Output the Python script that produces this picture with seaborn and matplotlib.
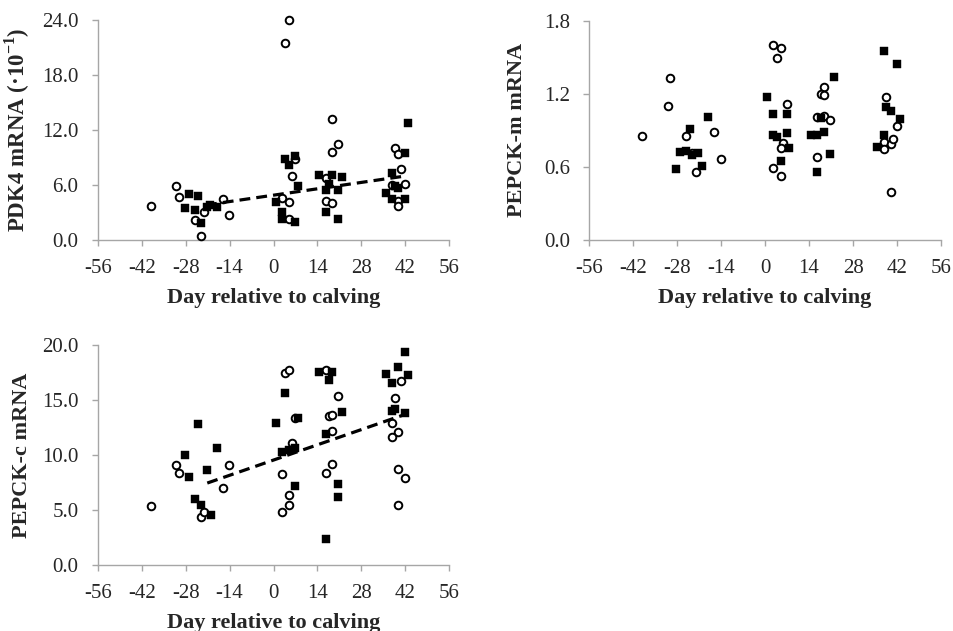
import numpy as np
import pandas as pd
import matplotlib
matplotlib.use("Agg")
import matplotlib.pyplot as plt
import seaborn as sns

sns.set_style("white")
plt.rcParams['font.family'] = ['Liberation Serif', 'DejaVu Serif']
plt.rcParams['mathtext.fontset'] = 'custom'
plt.rcParams['mathtext.rm'] = 'Liberation Serif'
plt.rcParams['mathtext.bf'] = 'Liberation Serif:bold'

# ---------------- data ----------------
# PDK4 (x10^-1)
pdk4_open_day = [-39.1, -31.0, -30.1, -25.1, -22.0, -23.2, -16.1, -14.2,
                 3.8, 5.0, 2.8, 5.0, 5.8, 5.0, 6.8,
                 18.6, 20.6, 18.6, 16.6, 16.6, 18.6,
                 38.7, 39.8, 40.7, 41.8, 37.7, 39.8, 39.8]
pdk4_open_val = [3.75, 5.93, 4.73, 2.22, 3.05, 0.47, 4.44, 2.69,
                 21.45, 23.96, 4.55, 4.15, 6.98, 2.29, 8.87,
                 13.16, 10.44, 9.56, 6.73, 4.25, 4.07,
                 10.07, 9.35, 7.75, 6.11, 6.04, 4.25, 3.75]
pdk4_fill_day = [-27.0, -24.1, -28.2, -25.1, -23.2, -21.1, -20.2, -18.1,
                 3.8, 5.0, 7.0, 7.7, 0.7, 2.8, 2.8, 7.0,
                 14.6, 18.6, 21.7, 17.7, 16.6, 20.6, 16.6, 20.6,
                 37.7, 41.8, 42.8, 35.8, 38.7, 39.8, 37.7, 41.8]
pdk4_fill_val = [5.05, 4.76, 3.45, 3.31, 1.85, 3.64, 3.82, 3.56,
                 8.87, 8.15, 9.13, 5.93, 4.11, 3.05, 2.29, 1.93,
                 7.05, 7.05, 6.87, 6.07, 5.45, 5.49, 3.02, 2.33,
                 7.35, 9.45, 12.76, 5.16, 5.89, 5.64, 4.44, 4.44]
pdk4_trend_day = [-21.5, 42.4]
pdk4_trend_val = [3.82, 7.0]

# PEPCK-m
pm_open_day = [-39.2, -30.3, -31.0, -25.2, -23.2, -22.0, -16.1, -14.1,
               2.6, 5.0, 3.8, 7.0, 5.8, 5.0, 2.6, 5.0,
               18.7, 17.9, 18.7, 16.6, 18.7, 20.7, 16.6,
               38.6, 37.9, 37.9, 40.0, 40.8, 41.9, 40.0]
pm_open_val = [0.851, 1.33, 1.097, 0.856, 0.717, 0.558, 0.886, 0.667,
               1.60, 1.578, 1.49, 1.113, 0.799, 0.755, 0.588, 0.522,
               1.258, 1.198, 1.19, 1.012, 1.02, 0.982, 0.684,
               1.171, 0.807, 0.749, 0.785, 0.829, 0.935, 0.391]
pm_fill_day = [-28.3, -27.2, -25.2, -24.0, -23.2, -21.3, -20.1, -18.1,
               0.7, 2.6, 7.0, 2.6, 3.8, 7.0, 7.7, 5.0,
               14.5, 16.6, 18.7, 17.9, 21.8, 20.7, 16.6,
               37.9, 41.9, 38.6, 40.0, 42.9, 35.7, 37.9]
pm_fill_val = [0.583, 0.719, 0.733, 0.911, 0.70, 0.714, 0.604, 1.012,
               1.171, 1.034, 1.034, 0.862, 0.848, 0.881, 0.758, 0.648,
               0.859, 0.859, 0.889, 0.998, 1.338, 0.706, 0.555,
               1.551, 1.441, 1.094, 1.061, 0.996, 0.766, 0.864]

# PEPCK-c
pc_open_day = [-39.1, -31.0, -30.1, -23.2, -22.1, -16.1, -14.2,
               2.8, 2.8, 5.0, 5.0, 5.8, 3.8, 5.0, 6.8,
               16.6, 20.7, 17.7, 18.7, 18.7, 18.7, 16.6,
               40.7, 38.7, 37.8, 39.8, 37.8, 39.8, 41.8, 39.8]
pc_open_val = [5.36, 9.12, 8.39, 4.33, 4.79, 6.97, 9.12,
               8.27, 4.82, 5.48, 6.39, 11.06, 17.48, 17.73, 13.39,
               17.73, 15.39, 13.55, 13.64, 12.18, 9.15, 8.39,
               16.70, 15.21, 12.91, 12.12, 11.61, 8.76, 7.94, 5.45]
pc_fill_day = [-24.1, -28.2, -27.0, -25.1, -23.2, -20.0, -21.1, -18.1,
               0.7, 3.8, 2.8, 5.0, 7.0, 7.7, 7.0,
               14.6, 18.7, 17.7, 21.7, 16.6, 20.7, 20.7, 16.6,
               41.8, 39.8, 35.8, 42.8, 37.8, 37.8, 38.7, 41.8]
pc_fill_val = [12.85, 10.03, 7.97, 6.0, 5.45, 4.58, 8.61, 10.67,
               12.94, 15.67, 10.24, 10.45, 10.67, 13.33, 7.21,
               17.52, 17.52, 16.79, 13.91, 11.88, 7.39, 6.18, 2.33,
               19.33, 18.0, 17.33, 17.27, 16.55, 13.97, 14.21, 13.82]
pc_trend_day = [-21.1, 41.4]
pc_trend_val = [7.45, 13.64]

x_ticks = [-56, -42, -28, -14, 0, 14, 28, 42, 56]
xlabel = "Day relative to calving"

# ---------------- figure ----------------
W, H = 954, 631
fig = plt.figure(figsize=(W / 100, H / 100), dpi=100)

def px_axes(left, top, right, bottom):
    return fig.add_axes([left / W, 1 - bottom / H, (right - left) / W, (bottom - top) / H])

def draw(ax, od, ov, fd, fv, ylim, yticks, ylabel, trend=None, ylabelsize=16):
    sns.scatterplot(x=od, y=ov, ax=ax, marker='o', s=30, facecolor='white',
                    edgecolor='black', linewidth=1.4, zorder=3)
    sns.scatterplot(x=fd, y=fv, ax=ax, marker='s', s=26, color='black',
                    edgecolor='black', linewidth=0.3, zorder=4)
    if trend is not None:
        sns.lineplot(x=trend[0], y=trend[1], ax=ax, color='black', linewidth=2.3,
                     linestyle=(0, (3.4, 1.9)), zorder=5)
    ax.set_xlim(-56, 56)
    ax.set_ylim(*ylim)
    ax.set_xticks(x_ticks)
    ax.set_xticklabels([str(t) for t in x_ticks])
    ax.set_yticks(yticks)
    ax.set_yticklabels([f"{t:.1f}" for t in yticks])
    for sp in ['top', 'right']:
        ax.spines[sp].set_visible(False)
    for sp in ['left', 'bottom']:
        ax.spines[sp].set_color('#a6a6a6')
        ax.spines[sp].set_linewidth(1.0)
    ax.tick_params(axis='x', direction='out', length=4.3, width=1.0, color='#a6a6a6',
                   labelsize=15, pad=9.5, bottom=True)
    ax.tick_params(axis='y', direction='out', length=4.3, width=1.0, color='#a6a6a6',
                   labelsize=15, pad=9.5, left=True)
    ax.set_xlabel(xlabel, fontsize=16, fontweight='bold', labelpad=7)
    ax.set_ylabel(ylabel, fontsize=ylabelsize, fontweight='bold', labelpad=7)
    ax.set_facecolor('white')

ax1 = px_axes(97.7, 20, 449.3, 240)
draw(ax1, pdk4_open_day, pdk4_open_val, pdk4_fill_day, pdk4_fill_val,
     (0, 24), [0, 6, 12, 18, 24], r"PDK4 mRNA (·10$^{\mathbf{-1}}$)",
     trend=(pdk4_trend_day, pdk4_trend_val), ylabelsize=16.5)

ax2 = px_axes(589, 20.7, 941, 240)
draw(ax2, pm_open_day, pm_open_val, pm_fill_day, pm_fill_val,
     (0, 1.8), [0, 0.6, 1.2, 1.8], "PEPCK-m mRNA")
ax2.yaxis.labelpad = 12

ax3 = px_axes(97.7, 345, 449.3, 565)
draw(ax3, pc_open_day, pc_open_val, pc_fill_day, pc_fill_val,
     (0, 20), [0, 5, 10, 15, 20], "PEPCK-c mRNA",
     trend=(pc_trend_day, pc_trend_val))

for ax in (ax1, ax2, ax3):
    for coll in ax.collections:
        coll.set_clip_on(False)

fig.savefig("out.png", dpi=100, facecolor='white')
